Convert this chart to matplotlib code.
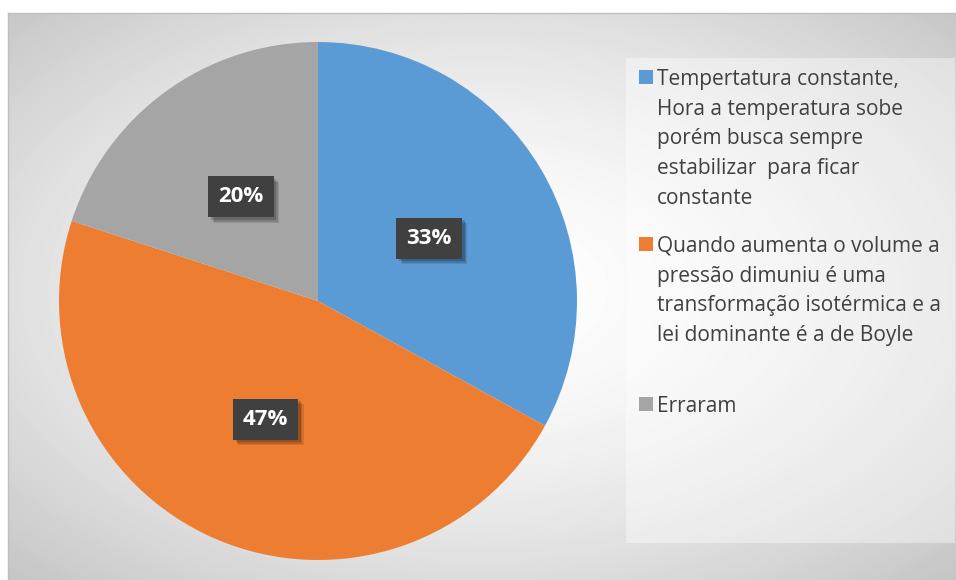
import matplotlib.pyplot as plt
import matplotlib.patheffects as pe
from matplotlib.patches import Rectangle
import numpy as np

plt.rcParams['font.family'] = ['Open Sans', 'DejaVu Sans']

labels = [
    "Tempertatura constante,\nHora a temperatura sobe\nporém busca sempre\nestabilizar  para ficar\nconstante",
    "Quando aumenta o volume a\npressão dimuniu é uma\ntransformação isotérmica e a\nlei dominante é a de Boyle",
    "Erraram",
]
shares = [33, 47, 20]
colors = ["#5B9BD5", "#ED7D31", "#A5A5A5"]

W, H = 956, 580
fig = plt.figure(figsize=(W / 100, H / 100), dpi=100)
fig.patch.set_facecolor("white")

# chart area with a soft radial gradient
x0, y0 = 8, 13
bg = fig.add_axes([x0 / W, 0, (W - x0) / W, (H - y0) / H])
xx, yy = np.meshgrid(np.arange(x0, W), np.arange(y0, H))
d = np.hypot((xx - 480) / 472, (yy - 290) / 277) / np.sqrt(2)
shade = 1 - 0.22 * np.clip(d, 0, 1.2) ** 1.6
bg.imshow(shade, cmap="gray", vmin=0, vmax=1, aspect="auto",
          extent=(0, 1, 0, 1), interpolation="bilinear")
bg.set_xlim(0, 1)
bg.set_ylim(0, 1)
bg.set_xticks([])
bg.set_yticks([])
for s in bg.spines.values():
    s.set_color("#bfbfbf")
    s.set_linewidth(1)
bg.spines["right"].set_visible(False)
bg.spines["bottom"].set_visible(False)


def px(x, y):
    return x / W, 1 - y / H


# legend panel
lx, ly = px(626, 543)
fig.patches.append(Rectangle((lx, ly), (955 - 626) / W, (543 - 58) / H,
                             transform=fig.transFigure, facecolor="white",
                             alpha=0.4, edgecolor="none", zorder=1))

# pie
r, cx, cy = 259, 318, 301
ax = fig.add_axes([(cx - r) / W, (H - cy - r) / H, 2 * r / W, 2 * r / H])
wedges, _ = ax.pie(shares, colors=colors, startangle=90, counterclock=False,
                   radius=1, wedgeprops=dict(linewidth=0))
ax.set_xlim(-1, 1)
ax.set_ylim(-1, 1)
ax.set_aspect("equal")
ax.axis("off")

# data labels: dark box with a soft drop shadow
shadow = [pe.withSimplePatchShadow(offset=(o, -o), shadow_rgbFace="black",
                                   alpha=a)
          for o, a in [(4, 0.10), (3, 0.14), (2, 0.18)]]
label_pos = [(0.429, 0.243), (-0.203, -0.456), (-0.297, 0.402)]
for val, (tx, ty) in zip(shares, label_pos):
    t = ax.text(tx, ty, f"{val}%", ha="center", va="center", color="white",
                fontsize=16, fontweight="bold",
                bbox=dict(boxstyle="square,pad=0.45", facecolor="#404040",
                          linewidth=0))
    t.get_bbox_patch().set_path_effects(shadow + [pe.Normal()])

# legend entries
entry_y = [78, 245, 405]
for lab, col, ypos in zip(labels, colors, entry_y):
    mx, my = px(639, ypos + 6)
    fig.patches.append(Rectangle((mx, my), 14 / W, 14 / H,
                                 transform=fig.transFigure, facecolor=col,
                                 edgecolor="none", zorder=3))
    tx, ty = px(657, ypos - 9)
    fig.text(tx, ty, lab, ha="left", va="top", fontsize=15,
             color="#404040", linespacing=1.54, zorder=4)

fig.savefig("out.png", dpi=100)
